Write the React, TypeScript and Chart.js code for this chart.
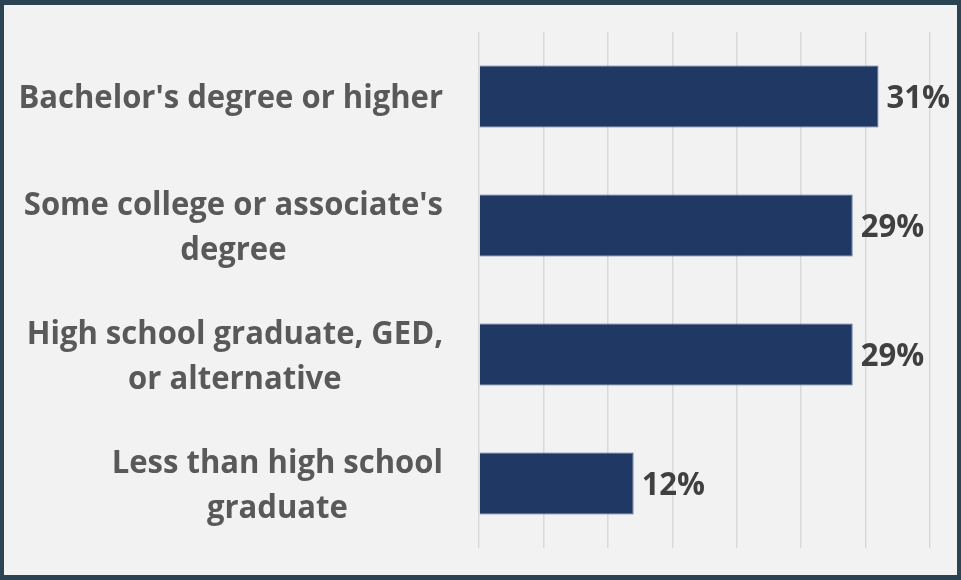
import React, { useEffect, useRef } from "react";
import { Chart, registerables } from "chart.js";

Chart.register(...registerables);

// ---- data ----
const categories: string[][] = [
  ["Bachelor's degree or higher"],
  ["Some college or associate's", "degree"],
  ["High school graduate, GED,", "or alternative"],
  ["Less than high school", "graduate"],
];
const values: number[] = [31, 29, 29, 12];
const valueLabels: string[] = ["31%", "29%", "29%", "12%"];
const axisMin = 0;
const axisMax = 35;
const axisStep = 5;

// ---- style ----
const FONT_FAMILY = '"Open Sans", "Noto Sans", sans-serif';
const FONT_SIZE = 33;
const H_SCALE = 0.94; // narrower letterforms, closer to the original typeface
const CAP_HEIGHT = 23.5;
const LINE_HEIGHT = 45.5;
const LABEL_GAP = 36;
const BAR_COLOR = "#203864";
const BAR_BORDER = "#4d6390";
const GRID_COLOR = "#d9d9d9";
const CAT_COLOR = "#595959";
const VAL_COLOR = "#404040";

function drawScaledText(
  ctx: CanvasRenderingContext2D,
  text: string,
  x: number,
  y: number
) {
  ctx.save();
  ctx.translate(x, y);
  ctx.scale(H_SCALE, 1);
  ctx.fillText(text, 0, 0);
  ctx.restore();
}

const categoryLabelPlugin = {
  id: "categoryLabels",
  afterDraw(chart: any) {
    const ctx = chart.ctx as CanvasRenderingContext2D;
    const yScale = chart.scales.y;
    const area = chart.chartArea;
    ctx.save();
    ctx.font = `bold ${FONT_SIZE}px ${FONT_FAMILY}`;
    ctx.fillStyle = CAT_COLOR;
    ctx.textAlign = "center";
    ctx.textBaseline = "alphabetic";
    categories.forEach((lines, i) => {
      const cy = yScale.getPixelForValue(i);
      const maxW = Math.max(...lines.map((l) => ctx.measureText(l).width)) * H_SCALE;
      const cx = area.left - LABEL_GAP - maxW / 2;
      lines.forEach((line, j) => {
        const ly = cy + (j - (lines.length - 1) / 2) * LINE_HEIGHT + CAP_HEIGHT / 2;
        drawScaledText(ctx, line, cx, ly);
      });
    });
    ctx.restore();
  },
};

const valueLabelPlugin = {
  id: "valueLabels",
  afterDatasetsDraw(chart: any) {
    const ctx = chart.ctx as CanvasRenderingContext2D;
    const meta = chart.getDatasetMeta(0);
    ctx.save();
    ctx.font = `bold ${FONT_SIZE}px ${FONT_FAMILY}`;
    ctx.fillStyle = VAL_COLOR;
    ctx.textAlign = "left";
    ctx.textBaseline = "alphabetic";
    meta.data.forEach((bar: any, i: number) => {
      drawScaledText(ctx, valueLabels[i], bar.x + 8, bar.y + CAP_HEIGHT / 2);
    });
    ctx.restore();
  },
};

export default function App() {
  const canvasRef = useRef<HTMLCanvasElement | null>(null);

  useEffect(() => {
    document.body.style.margin = "0";
    const canvas = canvasRef.current;
    if (!canvas) return;
    const chart = new Chart(canvas, {
      type: "bar",
      data: {
        labels: categories.map((c) => c.join(" ")),
        datasets: [
          {
            data: values,
            backgroundColor: BAR_COLOR,
            borderColor: BAR_BORDER,
            borderWidth: 1,
            barPercentage: 0.48,
            categoryPercentage: 1,
          },
        ],
      },
      options: {
        indexAxis: "y",
        animation: false,
        responsive: false,
        maintainAspectRatio: false,
        layout: { padding: { left: 475, right: 27, top: 27, bottom: 27 } },
        plugins: {
          legend: { display: false },
          tooltip: { enabled: false },
          title: { display: false },
        },
        scales: {
          x: {
            min: axisMin,
            max: axisMax,
            ticks: { stepSize: axisStep, display: false },
            grid: { color: GRID_COLOR, lineWidth: 1.5, drawTicks: false },
            border: { display: false },
          },
          y: {
            ticks: { display: false },
            grid: { display: false, drawTicks: false },
            border: { display: false },
          },
        },
      },
      plugins: [categoryLabelPlugin, valueLabelPlugin],
    });
    return () => chart.destroy();
  }, []);

  return (
    <div
      style={{
        position: "fixed",
        left: 0,
        top: 0,
        width: 961,
        height: 580,
        boxSizing: "border-box",
        borderStyle: "solid",
        borderColor: "#2b4352",
        borderWidth: "5px 4px 5px 4px",
        background: "#f2f2f2",
      }}
    >
      <canvas ref={canvasRef} width={953} height={570} style={{ display: "block" }} />
    </div>
  );
}
